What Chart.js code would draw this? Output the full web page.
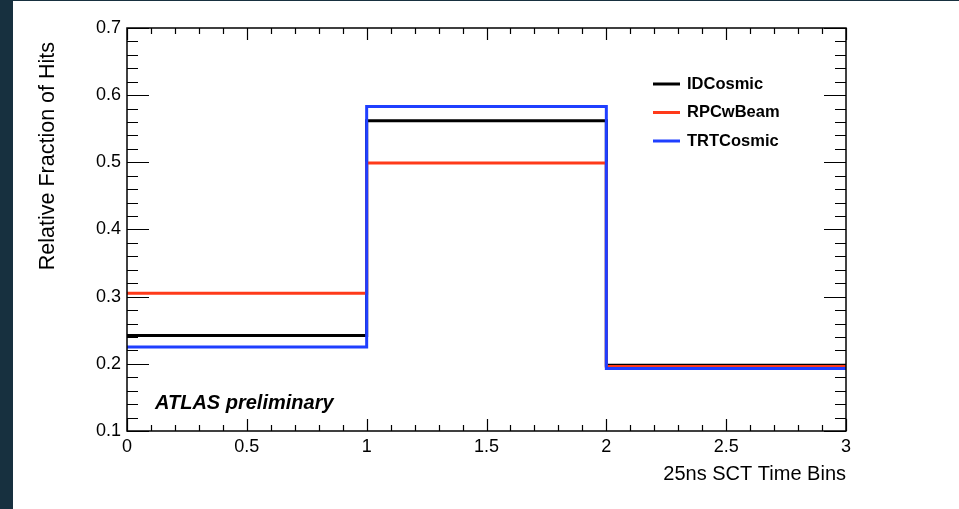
<!DOCTYPE html>
<html>
<head>
<meta charset="utf-8">
<title>SCT time bins</title>
<script src="https://cdn.jsdelivr.net/npm/chart.js@4/dist/chart.umd.min.js"></script>
<style>
  html, body { margin: 0; padding: 0; background: #17303f; }
  #wrap {
    position: absolute;
    left: 13px;
    top: 1px;
    width: 946px;
    height: 508px;
    background: #ffffff;
  }
</style>
</head>
<body>
<div id="wrap"><canvas id="hits"></canvas></div>
<script>
  // bin edges of the 25ns SCT time bins
  const binEdges = [0, 1, 2, 3];

  // relative fraction of hits per bin
  const idCosmic = [0.242, 0.562, 0.198];
  const rpcwBeam = [0.305, 0.499, 0.196];
  const trtCosmic = [0.225, 0.583, 0.193];

  const xTicks = [0, 0.5, 1, 1.5, 2, 2.5, 3];
  const yTicks = [0.1, 0.2, 0.3, 0.4, 0.5, 0.6, 0.7];

  const FONT = '"Liberation Sans", Arial, Helvetica, sans-serif';

  // histogram outline: one point per left edge, last value repeated at the right edge
  const toSteps = (values) => {
    const pts = values.map((v, i) => ({ x: binEdges[i], y: v }));
    pts.push({ x: binEdges[binEdges.length - 1], y: values[values.length - 1] });
    return pts;
  };

  // ROOT style frame with inward ticks on all four sides
  const frameTicks = {
    id: 'frameTicks',
    afterDatasetsDraw(chart) {
      const { ctx, chartArea: a, scales } = chart;
      const xs = scales.x;
      const ys = scales.y;
      ctx.save();
      ctx.strokeStyle = '#000';
      ctx.lineWidth = 1.5;
      ctx.strokeRect(a.left, a.top, a.right - a.left, a.bottom - a.top);

      ctx.lineWidth = 1.2;
      ctx.beginPath();
      for (let i = 0; i <= 30; i++) {
        const px = Math.round(xs.getPixelForValue(i / 10)) + 0.5;
        const len = i % 5 === 0 ? 12 : 6;
        ctx.moveTo(px, a.bottom);
        ctx.lineTo(px, a.bottom - len);
        ctx.moveTo(px, a.top);
        ctx.lineTo(px, a.top + len);
      }
      for (let i = 5; i <= 35; i++) {
        const py = Math.round(ys.getPixelForValue(i / 50)) + 0.5;
        const len = i % 5 === 0 ? 22 : 11;
        ctx.moveTo(a.left, py);
        ctx.lineTo(a.left + len, py);
        ctx.moveTo(a.right, py);
        ctx.lineTo(a.right - len, py);
      }
      ctx.stroke();
      ctx.restore();
    },
    afterDraw(chart) {
      const { ctx, chartArea: a } = chart;
      ctx.save();
      ctx.fillStyle = '#000';

      // axis titles
      ctx.font = '20px ' + FONT;
      ctx.textAlign = 'right';
      ctx.textBaseline = 'middle';
      ctx.fillText('25ns SCT Time Bins', a.right, a.bottom + 43);

      ctx.font = '21.5px ' + FONT;
      ctx.translate(35, a.top + 14);
      ctx.rotate(-Math.PI / 2);
      ctx.fillText('Relative Fraction of Hits', 0, 0);
      ctx.setTransform(1, 0, 0, 1, 0, 0);

      // legend
      ctx.font = 'bold 16.5px ' + FONT;
      ctx.textAlign = 'left';
      chart.data.datasets.forEach((ds, i) => {
        const ly = a.top + 56 + i * 28.5;
        ctx.strokeStyle = ds.borderColor;
        ctx.lineWidth = 3;
        ctx.beginPath();
        ctx.moveTo(a.left + 526, ly);
        ctx.lineTo(a.left + 553, ly);
        ctx.stroke();
        ctx.fillText(ds.label, a.left + 560, ly);
      });

      ctx.font = 'italic bold 20px ' + FONT;
      ctx.fillText('ATLAS preliminary', a.left + 28, a.bottom - 28);
      ctx.restore();
    },
  };

  const datasets = [
    { label: 'IDCosmic', values: idCosmic, color: '#000000', order: 2 },
    { label: 'RPCwBeam', values: rpcwBeam, color: '#ff3a1a', order: 1 },
    { label: 'TRTCosmic', values: trtCosmic, color: '#1f3fff', order: 0 },
  ].map((d) => ({
    label: d.label,
    data: toSteps(d.values),
    borderColor: d.color,
    backgroundColor: d.color,
    borderWidth: 3,
    stepped: 'before',
    pointRadius: 0,
    fill: false,
    order: d.order,
  }));

  new Chart(document.getElementById('hits'), {
    type: 'line',
    data: { datasets },
    options: {
      responsive: true,
      maintainAspectRatio: false,
      animation: false,
      layout: { padding: { left: 0, right: 113, top: 27, bottom: 0 } },
      plugins: {
        legend: { display: false },
        tooltip: { enabled: false },
      },
      scales: {
        x: {
          type: 'linear',
          min: 0,
          max: 3,
          afterFit: (scale) => { scale.height = 78; },
          afterBuildTicks: (scale) => { scale.ticks = xTicks.map((v) => ({ value: v })); },
          grid: { display: false, drawTicks: false },
          border: { display: false },
          ticks: {
            padding: 5,
            maxRotation: 0,
            autoSkip: false,
            color: '#000',
            font: { family: FONT, size: 18 },
            callback: (v) => String(v),
          },
        },
        y: {
          min: 0.1,
          max: 0.7,
          afterFit: (scale) => { scale.width = 114; },
          afterBuildTicks: (scale) => { scale.ticks = yTicks.map((v) => ({ value: v })); },
          grid: { display: false, drawTicks: false },
          border: { display: false },
          ticks: {
            padding: 6,
            autoSkip: false,
            color: '#000',
            font: { family: FONT, size: 18 },
            callback: (v) => Number(v).toFixed(1),
          },
        },
      },
    },
    plugins: [frameTicks],
  });
</script>
</body>
</html>
